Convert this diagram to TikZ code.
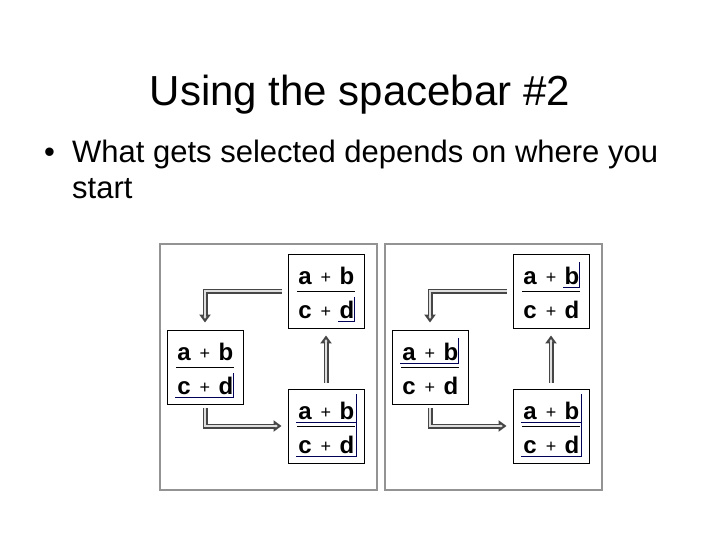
\documentclass[tikz,border=0pt]{standalone}
\usepackage{fontspec}
\setmainfont{Liberation Sans}
\usetikzlibrary{arrows.meta}
\tikzset{
  panel/.style={draw=gray!85, line width=2.5pt},
  fbox/.style={draw=black, line width=0.9pt, fill=white},
  term/.style={font=\fontsize{24}{24}\selectfont\bfseries, inner sep=0pt, anchor=base},
  plus/.style={font=\fontsize{18}{18}\selectfont, inner sep=0pt, anchor=base},
  sel/.style={draw=blue!35!black, line width=0.8pt},
  arrout/.style={line width=5pt, draw=gray!55!black, -{Triangle[width=11pt,length=8pt,fill=gray!25]}},
  arrin/.style={line width=2.6pt, draw=gray!25},
}
% #1 name, #2 x, #3 y, #4 selection code
\newcommand{\fracbx}[4]{%
  \node[fbox, minimum width=76pt, minimum height=74pt] (#1) at (#2,#3) {};
  \begin{scope}[shift={(#2,#3)}]
    \node[term] at (-21,-7) {a}; \node[plus] at (0,-8) {+}; \node[term] at (21,-7) {b};
    \node[term] at (-21,27) {c}; \node[plus] at (0,26) {+}; \node[term] at (21,27) {d};
    \draw[line width=0.8pt] (-29,0) -- (29,0);
    #4
  \end{scope}}
\newcommand{\seld}{\draw[sel] (12,30) -- (28,30) -- (28,6);}
\newcommand{\selcd}{\draw[sel] (-30,30) -- (28,30) -- (28,6);}
\newcommand{\selb}{\draw[sel] (12,-4) -- (28,-4) -- (28,-29);}
\newcommand{\selab}{\draw[sel] (-30,-4) -- (28,-4) -- (28,-29);}
\newcommand{\selall}{\draw[sel] (-30,-4) -- (30,-4); \draw[sel] (-30,30) -- (30,30) -- (30,-32);}
\begin{document}
\begin{tikzpicture}[x=1pt,y=-1pt]
\useasboundingbox (0,0) rectangle (720,540);
\node[font=\fontsize{42}{42}\selectfont, anchor=base] (title) at (360,106) {Using the spacebar \#2};
\node[font=\fontsize{31}{31}\selectfont, anchor=base west, inner sep=0pt] (b1) at (44,163) {•};
\node[font=\fontsize{31}{31}\selectfont, anchor=base west, inner sep=0pt] (l1) at (72,163) {What gets selected depends on where you};
\node[font=\fontsize{31}{31}\selectfont, anchor=base west, inner sep=0pt] (l2) at (72,199) {start};
\foreach \ox in {0,225}{
  \draw[panel] (160+\ox,244) rectangle (377+\ox,490);
}
% panel 1
\fracbx{a1}{326}{291}{\seld}
\fracbx{a2}{205}{367}{\selcd}
\fracbx{a3}{326}{426}{\selall}
% panel 2
\fracbx{b1x}{551}{291}{\selb}
\fracbx{b2}{430}{367}{\selab}
\fracbx{b3}{551}{426}{\selall}
\foreach \n/\m/\k in {a1/a2/a3, b1x/b2/b3}{
  \draw[arrout] ([xshift=-6pt]\n.west) -| ([yshift=7pt]\m.north);
  \draw[arrin, shorten >=6pt] ([xshift=-6pt]\n.west) -| ([yshift=7pt]\m.north);
  \draw[arrout] ([yshift=-4pt]\m.south) |- ([xshift=-6pt]\k.west);
  \draw[arrin, shorten >=6pt] ([yshift=-4pt]\m.south) |- ([xshift=-6pt]\k.west);
  \draw[arrout] ([yshift=6pt]\k.north) -- ([yshift=-7pt]\n.south);
  \draw[arrin, shorten >=6pt] ([yshift=6pt]\k.north) -- ([yshift=-7pt]\n.south);
}
\end{tikzpicture}
\end{document}
